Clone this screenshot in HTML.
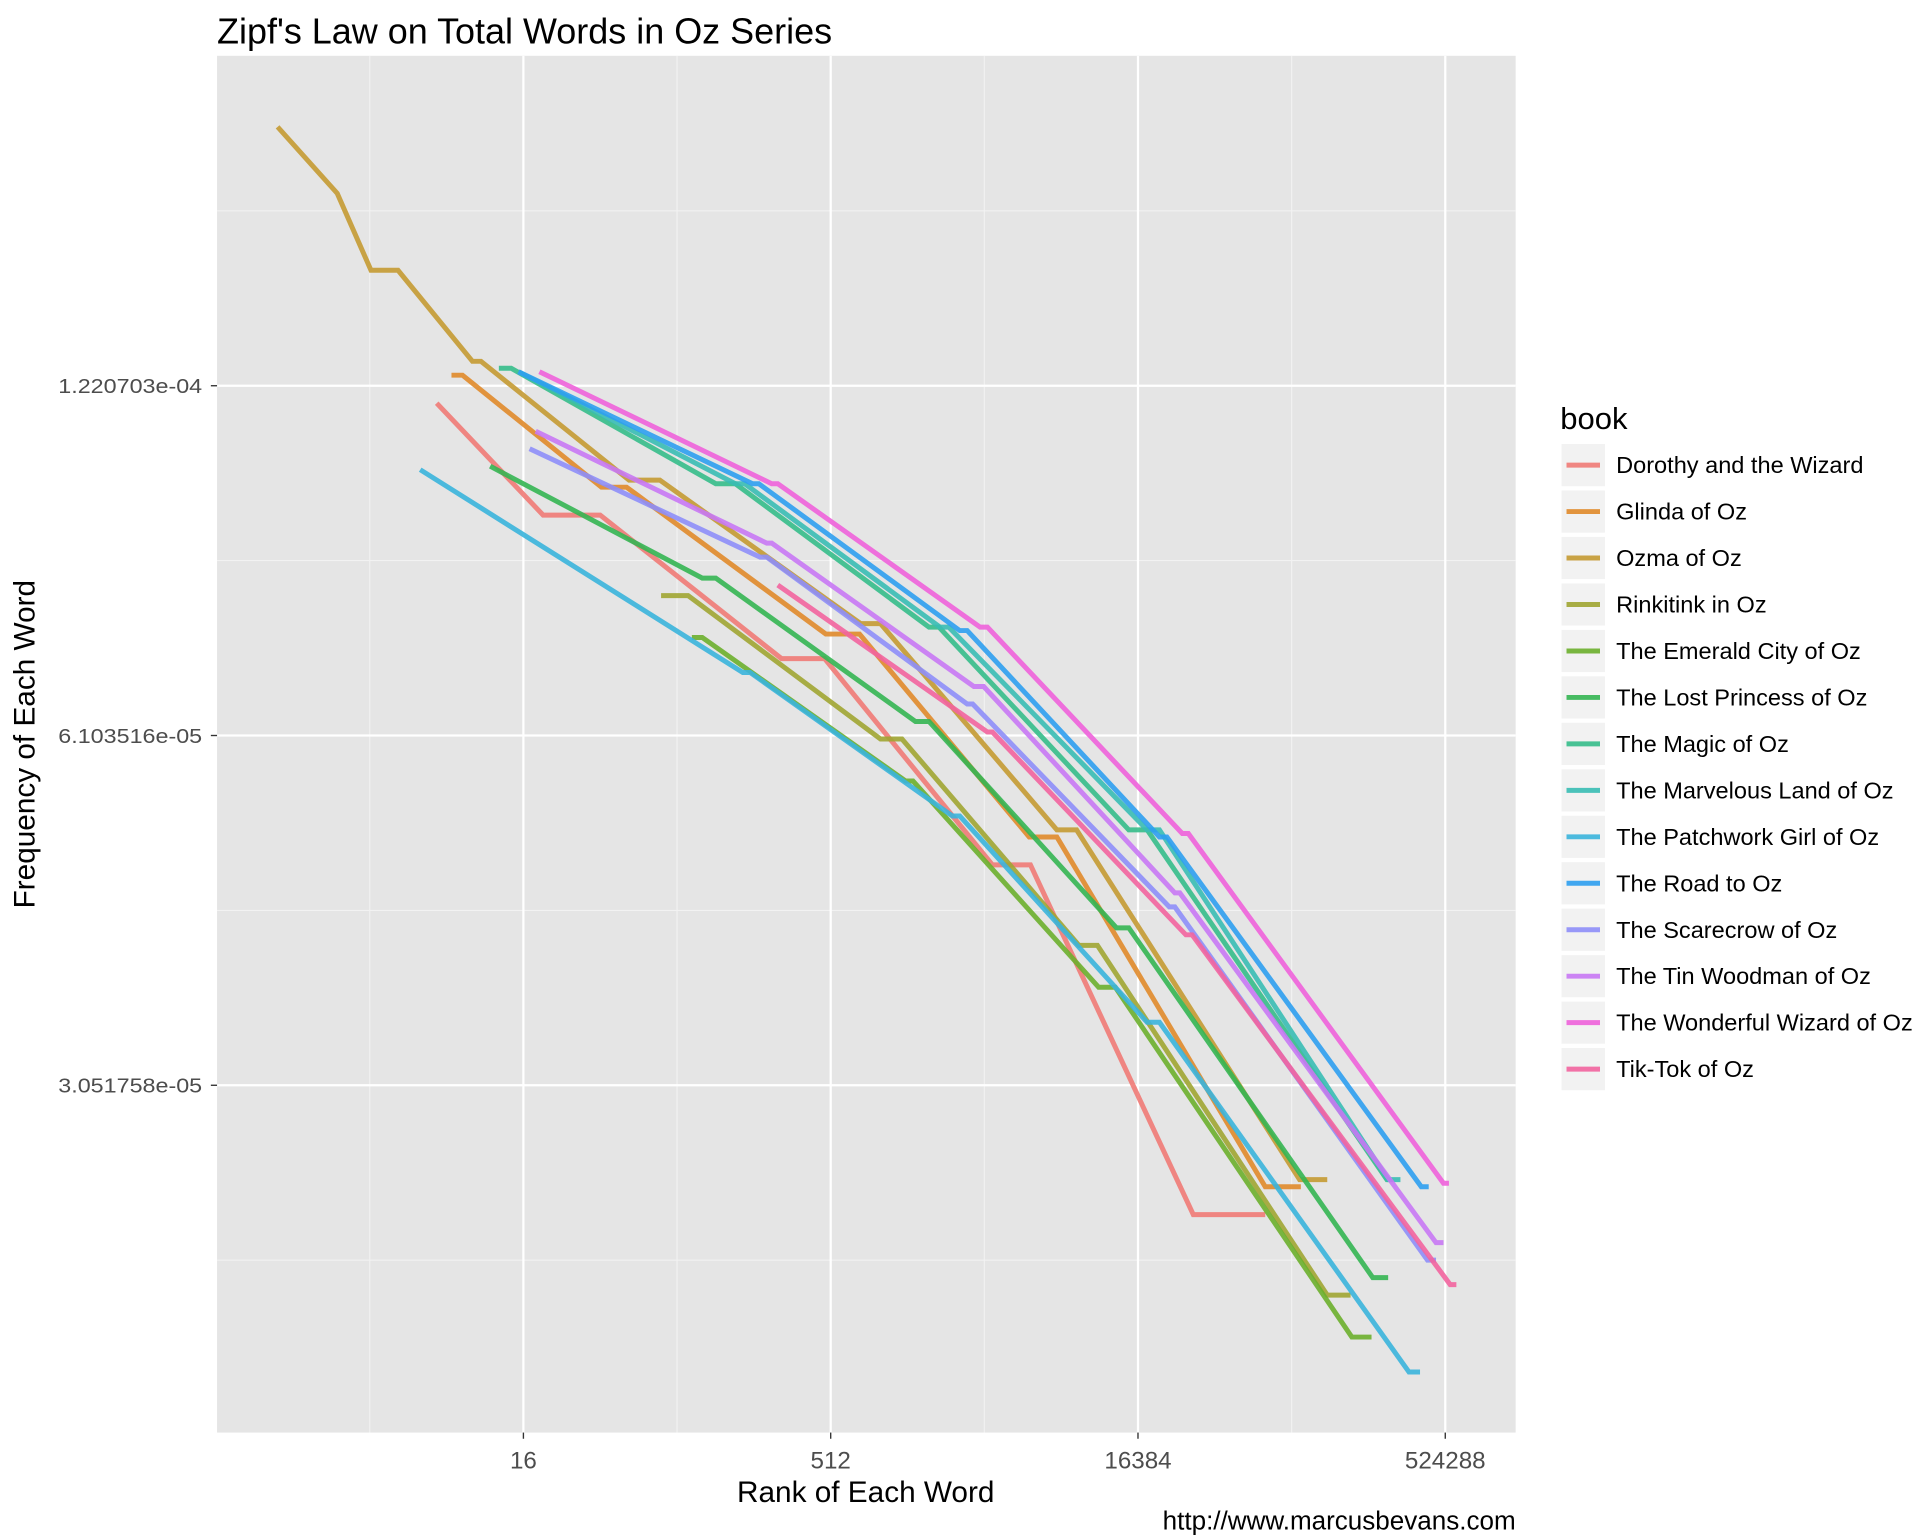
<!DOCTYPE html>
<html><head><meta charset="utf-8"><style>
html,body{margin:0;padding:0;background:#fff;}
svg{display:block;}
text{font-family:"Liberation Sans",Arial,sans-serif;}
</style></head><body>
<svg id="chart" width="1920" height="1536" viewBox="0 0 1548 1238.4" xmlns="http://www.w3.org/2000/svg">
<text x="175" y="35" font-size="29" fill="#000">Zipf's Law on Total Words in Oz Series</text>
<rect x="175" y="45" width="1047" height="1110" fill="#e5e5e5"/>
<g id="grid"></g>
<g id="series"></g>
<g id="axes"></g>
<text x="698" y="1211" font-size="24" text-anchor="middle" fill="#000">Rank of Each Word</text>
<text transform="translate(28,600) rotate(-90)" font-size="24" text-anchor="middle" fill="#000">Frequency of Each Word</text>
<text x="1222" y="1233" font-size="21" text-anchor="end" fill="#000">http://www.marcusbevans.com</text>
<text x="1258" y="346" font-size="25" fill="#000">book</text>
<g id="legend"></g>
</svg>
<script>
// x-axis: log2(rank); y-axis: log2(frequency)
const xTickValues = [4, 9, 14, 19];
const xTickLabels = ["16", "512", "16384", "524288"];
const yTickValues = [-13, -14, -15];
const yTickLabels = ["1.220703e-04", "6.103516e-05", "3.051758e-05"];
const bookNames = ["Dorothy and the Wizard","Glinda of Oz","Ozma of Oz","Rinkitink in Oz","The Emerald City of Oz","The Lost Princess of Oz","The Magic of Oz","The Marvelous Land of Oz","The Patchwork Girl of Oz","The Road to Oz","The Scarecrow of Oz","The Tin Woodman of Oz","The Wonderful Wizard of Oz","Tik-Tok of Oz"];
const bookColors = ["#F07A75","#E08A2A","#C49A32","#A0A532","#6CAF2C","#34B552","#35BC8A","#38BCB4","#3AB4DC","#2E9EF0","#8E8EF8","#C878F4","#EE62DA","#F2649E"];
// each series: [log2 rank, log2 frequency]
const dorothy = [[2.59,-13.05],[4.32,-13.37],[5.25,-13.37],[8.20,-13.78],[8.90,-13.78],[11.63,-14.37],[12.25,-14.37],[14.90,-15.37],[16.07,-15.37]];
const glinda = [[2.83,-12.97],[3.01,-12.97],[5.27,-13.29],[5.68,-13.29],[8.92,-13.71],[9.47,-13.71],[12.23,-14.29],[12.68,-14.29],[16.07,-15.29],[16.65,-15.29]];
const ozma = [[0,-12.26],[0.97,-12.45],[1.52,-12.67],[1.96,-12.67],[3.17,-12.93],[3.31,-12.93],[5.72,-13.27],[6.22,-13.27],[9.49,-13.68],[9.81,-13.68],[12.68,-14.27],[13.00,-14.27],[16.63,-15.27],[17.08,-15.27]];
const rinkitink = [[6.24,-13.60],[6.68,-13.60],[9.81,-14.01],[10.16,-14.01],[13.04,-14.60],[13.34,-14.60],[17.08,-15.60],[17.46,-15.60]];
const emerald = [[6.74,-13.72],[6.91,-13.72],[10.22,-14.13],[10.34,-14.13],[13.36,-14.72],[13.63,-14.72],[17.48,-15.72],[17.80,-15.72]];
const lostPrincess = [[3.46,-13.23],[6.91,-13.55],[7.13,-13.55],[10.38,-13.96],[10.60,-13.96],[13.65,-14.55],[13.85,-14.55],[17.82,-15.55],[18.07,-15.55]];
const magic = [[3.60,-12.95],[3.80,-12.95],[7.13,-13.28],[7.45,-13.28],[10.60,-13.69],[10.76,-13.69],[13.85,-14.27],[14.15,-14.27],[18.05,-15.27],[18.10,-15.27]];
const marvelous = [[3.92,-12.96],[7.45,-13.28],[7.60,-13.28],[10.78,-13.69],[10.92,-13.69],[14.15,-14.27],[14.35,-14.27],[18.07,-15.27],[18.27,-15.27]];
const patchwork = [[2.32,-13.24],[7.57,-13.82],[7.69,-13.82],[10.98,-14.23],[11.10,-14.23],[14.15,-14.82],[14.35,-14.82],[18.41,-15.82],[18.59,-15.82]];
const road = [[3.92,-12.96],[7.73,-13.28],[7.83,-13.28],[11.10,-13.70],[11.22,-13.70],[14.35,-14.29],[14.47,-14.29],[18.61,-15.29],[18.73,-15.29]];
const scarecrow = [[4.10,-13.18],[7.85,-13.49],[7.96,-13.49],[11.22,-13.91],[11.31,-13.91],[14.51,-14.49],[14.60,-14.49],[18.71,-15.50],[18.85,-15.50]];
const tinWoodman = [[4.20,-13.13],[7.96,-13.45],[8.04,-13.45],[11.33,-13.86],[11.49,-13.86],[14.60,-14.45],[14.68,-14.45],[18.85,-15.45],[18.97,-15.45]];
const wonderful = [[4.26,-12.96],[8.04,-13.28],[8.14,-13.28],[11.43,-13.69],[11.55,-13.69],[14.72,-14.28],[14.82,-14.28],[18.97,-15.28],[19.06,-15.28]];
const tikTok = [[8.14,-13.57],[11.55,-13.99],[11.63,-13.99],[14.78,-14.57],[14.88,-14.57],[19.08,-15.57],[19.18,-15.57]];
const allSeries = [dorothy,glinda,ozma,rinkitink,emerald,lostPrincess,magic,marvelous,patchwork,road,scarecrow,tinWoodman,wonderful,tikTok];

const NS = "http://www.w3.org/2000/svg";
const PL = 175, PR = 1222, PT = 45, PB = 1155;
function xScale(v){ return 422 + (v - 4) * 49.55; }
function yScale(v){ return 311 + (-13 - v) * 282; }
function mk(tag, attrs, parent){ const e = document.createElementNS(NS, tag); for (const k in attrs) e.setAttribute(k, attrs[k]); parent.appendChild(e); return e; }

const grid = document.getElementById('grid');
const xMinor = xTickValues.map(v => v - 2.5).concat([xTickValues[xTickValues.length-1] + 2.5]);
for (const v of xMinor) {
  const mx = xScale(v);
  if (mx <= PL || mx >= PR) continue;
  const l = mk('line', {x1:mx, x2:mx, y1:PT, y2:PB, stroke:'#f2f2f2', 'stroke-width':0.9}, grid);
  
  
}
const yMinor = [yTickValues[0] + 0.5].concat(yTickValues.map(v => v - 0.5));
for (const v of yMinor) {
  const my = yScale(v);
  const l = mk('line', {x1:PL, x2:PR, y1:my, y2:my, stroke:'#f2f2f2', 'stroke-width':0.9}, grid);
  
  
}
const axes = document.getElementById('axes');
for (let i = 0; i < xTickValues.length; i++) {
  const X = xScale(xTickValues[i]);
  const g = mk('line', {x1:X, x2:X, y1:PT, y2:PB, stroke:'#fff', 'stroke-width':1.8}, grid);
  
  
  const t = mk('line', {x1:X, x2:X, y1:PB, y2:PB+5, stroke:'#333', 'stroke-width':1.1}, axes);
  
  
  const lb = mk('text', {x:X, y:PB+29, 'font-size':19.5, 'text-anchor':'middle', fill:'#4d4d4d'}, axes);
  lb.textContent = xTickLabels[i];
  
  
}
for (let i = 0; i < yTickValues.length; i++) {
  const Y = yScale(yTickValues[i]);
  const g = mk('line', {x1:PL, x2:PR, y1:Y, y2:Y, stroke:'#fff', 'stroke-width':1.8}, grid);
  
  
  const t = mk('line', {x1:PL-5, x2:PL, y1:Y, y2:Y, stroke:'#333', 'stroke-width':1.1}, axes);
  
  
  const lb = mk('text', {x:47, y:Y+6, 'font-size':16.5, textLength:116, lengthAdjust:'spacingAndGlyphs', fill:'#4d4d4d'}, axes);
  lb.textContent = yTickLabels[i];
  
  
}
const sg = document.getElementById('series');
allSeries.forEach((s, i) => {
  const pts = s.map(p => xScale(p[0]).toFixed(1) + ',' + yScale(p[1]).toFixed(1)).join(' ');
  const pl = mk('polyline', {points:pts, fill:'none', stroke:bookColors[i], 'stroke-width':4, 'stroke-opacity':0.9, 'stroke-linejoin':'miter'}, sg);
  
  
});
const lg = document.getElementById('legend');
bookNames.forEach((n, i) => {
  const cy = 375 + i * 37.46;
  const bg = mk('rect', {x:1259, y:cy-17, width:35, height:34, fill:'#f2f2f2'}, lg);
  
  
  const ln = mk('line', {x1:1263, x2:1290, y1:cy, y2:cy, stroke:bookColors[i], 'stroke-width':4, 'stroke-opacity':0.9}, lg);
  
  
  const tx = mk('text', {x:1303, y:cy+6.5, 'font-size':19, fill:'#000'}, lg);
  tx.textContent = n;
  
  
});
</script>
</body></html>
